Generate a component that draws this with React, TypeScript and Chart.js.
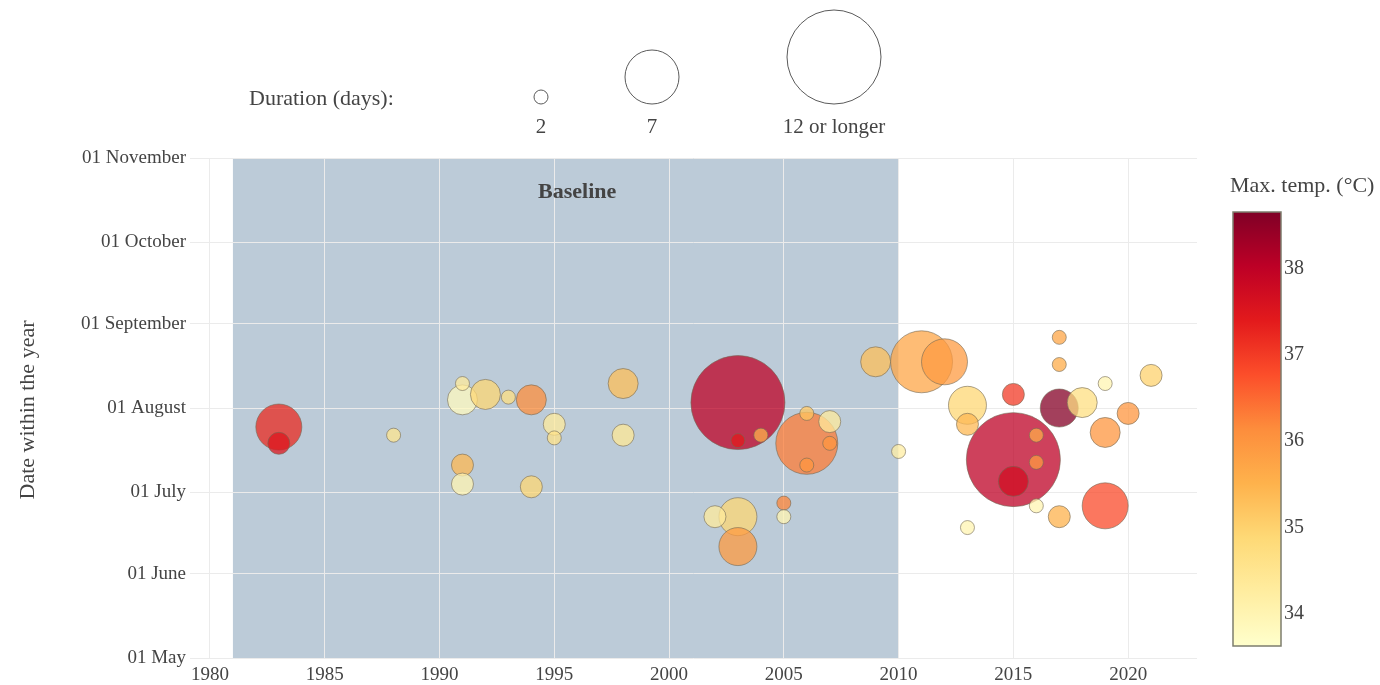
import React, { useEffect, useRef } from "react";
import { Chart, registerables } from "chart.js";

Chart.register(...registerables);

// Heatwave events: year, day of year of the event, duration and peak temperature
const YEARS = [
  1983, 1983, 1988, 1991, 1991, 1992, 1993, 1994, 1995, 1995,
  1991, 1991, 1994, 1998, 1998, 2003, 2003, 2004, 2006, 2006,
  2007, 2007, 2006, 2005, 2005, 2002, 2003, 2003, 2009, 2010,
  2011, 2012, 2013, 2013, 2013, 2015, 2015, 2015, 2016, 2016,
  2016, 2017, 2017, 2017, 2017, 2018, 2019, 2019, 2019, 2020,
  2021,
];
const DAY_OF_YEAR = [
  206, 200, 203, 222, 216, 218, 217, 216, 207, 202,
  192, 185, 184, 222, 203, 215, 201, 203, 200, 211,
  208, 200, 192, 178, 173, 173, 173, 162, 230, 197,
  230, 230, 214, 207, 169, 218, 194, 186, 203, 193,
  177, 239, 229, 213, 173, 215, 222, 204, 177, 211,
  225,
];
const DURATION_DAYS = [
  6, 3, 2, 2, 4, 4, 2, 4, 3, 2,
  3, 3, 3, 4, 3, 12, 2, 2, 8, 2,
  3, 2, 2, 2, 2, 3, 5, 5, 4, 2,
  8, 6, 5, 3, 2, 3, 12, 4, 2, 2,
  2, 2, 2, 5, 3, 4, 2, 4, 6, 3,
  3,
];
const MAX_TEMP = [
  37.2, 37.5, 34.5, 34.3, 33.8, 34.9, 34.7, 36.1, 34.3, 34.6,
  35.4, 34.0, 34.9, 35.3, 34.4, 38.0, 37.4, 35.5, 36.3, 35.2,
  34.3, 36.0, 36.0, 36.2, 34.0, 34.3, 34.9, 35.9, 35.3, 34.2,
  35.7, 35.9, 34.9, 35.4, 34.0, 37.0, 38.0, 37.7, 35.6, 35.9,
  34.0, 35.7, 35.6, 38.6, 35.5, 34.7, 34.0, 36.0, 36.8, 36.0,
  35.0,
];

const X_TICKS = [1980, 1985, 1990, 1995, 2000, 2005, 2010, 2015, 2020];
const MONTH_DAYS = [121, 152, 182, 213, 244, 274, 305];
const MONTH_LABELS = [
  "01 May", "01 June", "01 July", "01 August",
  "01 September", "01 October", "01 November",
];
const LEGEND_DURATIONS = [2, 7, 12];
const LEGEND_LABELS = ["2", "7", "12 or longer"];
const COLORBAR_TICKS = [34, 35, 36, 37, 38];
const BASELINE_START = 1981;
const BASELINE_END = 2010;

const T_MIN = 33.62;
const T_MAX = 38.64;

// YlOrRd colour ramp, from cool to hot
const RAMP: [number, number, number][] = [
  [255, 255, 204], [255, 237, 160], [254, 217, 118], [254, 178, 76],
  [253, 141, 60], [252, 78, 42], [227, 26, 28], [189, 0, 38], [128, 0, 38],
];

const FONT = "'Liberation Serif', 'Times New Roman', serif";
const TEXT = "#444444";

function rampColor(t: number, alpha = 1): string {
  const f = Math.max(0, Math.min(1, (t - T_MIN) / (T_MAX - T_MIN))) * (RAMP.length - 1);
  const i = Math.min(RAMP.length - 2, Math.floor(f));
  const k = f - i;
  const c = RAMP[i].map((v, j) => Math.round(v + (RAMP[i + 1][j] - v) * k));
  return `rgba(${c[0]},${c[1]},${c[2]},${alpha})`;
}

function radiusFor(days: number): number {
  return 4 * Math.min(days, 12) - 1;
}

const decorPlugin = {
  id: "decor",
  beforeDraw(chart: any) {
    const { ctx, chartArea, scales } = chart;
    const x0 = scales.x.getPixelForValue(BASELINE_START);
    const x1 = scales.x.getPixelForValue(BASELINE_END);
    ctx.save();
    ctx.fillStyle = "rgb(188,203,216)";
    ctx.fillRect(x0, chartArea.top, x1 - x0, chartArea.bottom - chartArea.top);
    ctx.restore();
  },
  afterDraw(chart: any) {
    const { ctx, scales } = chart;
    ctx.save();

    // Baseline label
    ctx.fillStyle = TEXT;
    ctx.font = `bold 22px ${FONT}`;
    ctx.textAlign = "center";
    ctx.textBaseline = "middle";
    ctx.fillText("Baseline", scales.x.getPixelForValue(1996), scales.y.getPixelForValue(292.5));

    // y-axis title
    ctx.save();
    ctx.translate(28, 410);
    ctx.rotate(-Math.PI / 2);
    ctx.font = `22px ${FONT}`;
    ctx.fillText("Date within the year", 0, 0);
    ctx.restore();

    // Bubble size legend
    ctx.font = `22px ${FONT}`;
    ctx.textAlign = "left";
    ctx.fillText("Duration (days):", 249, 99);
    const legendX = [541, 652, 834];
    ctx.font = `21px ${FONT}`;
    ctx.textAlign = "center";
    LEGEND_DURATIONS.forEach((d, i) => {
      const r = radiusFor(d);
      ctx.beginPath();
      ctx.arc(legendX[i], 104 - r, r, 0, Math.PI * 2);
      ctx.strokeStyle = "rgb(90,90,90)";
      ctx.lineWidth = 1;
      ctx.stroke();
      ctx.fillText(LEGEND_LABELS[i], legendX[i], 127);
    });

    // Colour bar
    const bx = 1233, bw = 48, by = 212, bh = 434;
    const grad = ctx.createLinearGradient(0, by + bh, 0, by);
    RAMP.forEach((c, i) => grad.addColorStop(i / (RAMP.length - 1), `rgb(${c[0]},${c[1]},${c[2]})`));
    ctx.fillStyle = grad;
    ctx.fillRect(bx, by, bw, bh);
    ctx.strokeStyle = "rgb(125,125,110)";
    ctx.lineWidth = 1.5;
    ctx.strokeRect(bx, by, bw, bh);
    ctx.fillStyle = TEXT;
    ctx.font = `20px ${FONT}`;
    ctx.textAlign = "left";
    COLORBAR_TICKS.forEach((t) => {
      const y = by + bh - ((t - T_MIN) / (T_MAX - T_MIN)) * bh;
      ctx.fillText(String(t), bx + bw + 3, y + 1);
    });
    ctx.font = `22px ${FONT}`;
    ctx.fillText("Max. temp. (\u00B0C)", 1230, 186);

    ctx.restore();
  },
};

export default function App() {
  const canvasRef = useRef<HTMLCanvasElement | null>(null);

  useEffect(() => {
    if (!canvasRef.current) return;
    const events = YEARS.map((year, i) => ({
      x: year,
      y: DAY_OF_YEAR[i],
      r: radiusFor(DURATION_DAYS[i]),
      days: DURATION_DAYS[i],
      temp: MAX_TEMP[i],
    }));
    // longer events go underneath shorter ones
    events.sort((a, b) => b.days - a.days);

    const chart = new Chart(canvasRef.current, {
      type: "bubble",
      data: {
        datasets: [
          {
            data: events.map((e) => ({ x: e.x, y: e.y, r: e.r })),
            backgroundColor: events.map((e) => rampColor(e.temp, 0.75)),
            borderColor: "rgba(115,105,85,0.6)",
            borderWidth: 1,
          },
        ],
      },
      options: {
        animation: false,
        responsive: false,
        devicePixelRatio: 1,
        layout: { autoPadding: false, padding: { left: 0, right: 183, top: 158, bottom: 0 } },
        plugins: { legend: { display: false }, tooltip: { enabled: false } },
        scales: {
          x: {
            type: "linear",
            min: 1979.13,
            max: 2023.0,
            afterFit: (s: any) => { s.height = 27; },
            afterBuildTicks: (s: any) => { s.ticks = X_TICKS.map((v) => ({ value: v })); },
            ticks: {
              callback: (v: any) => String(v),
              font: { family: FONT, size: 19 },
              color: TEXT,
              padding: 6,
              autoSkip: false,
              maxRotation: 0,
            },
            grid: { color: "#ebebeb", drawTicks: false },
            border: { display: false },
          },
          y: {
            type: "linear",
            min: MONTH_DAYS[0],
            max: MONTH_DAYS[MONTH_DAYS.length - 1],
            afterFit: (s: any) => { s.width = 190; },
            afterBuildTicks: (s: any) => { s.ticks = MONTH_DAYS.map((v) => ({ value: v })); },
            ticks: {
              callback: (v: any) => MONTH_LABELS[MONTH_DAYS.indexOf(Number(v))] ?? "",
              font: { family: FONT, size: 19 },
              color: TEXT,
              padding: 4,
              autoSkip: false,
            },
            grid: { color: "#ebebeb", drawTicks: false },
            border: { display: false },
          },
        },
      },
      plugins: [decorPlugin],
    });
    return () => chart.destroy();
  }, []);

  return (
    <div style={{ position: "fixed", left: 0, top: 0, width: 1380, height: 685, background: "#fff" }}>
      <canvas ref={canvasRef} width={1380} height={685} />
    </div>
  );
}
